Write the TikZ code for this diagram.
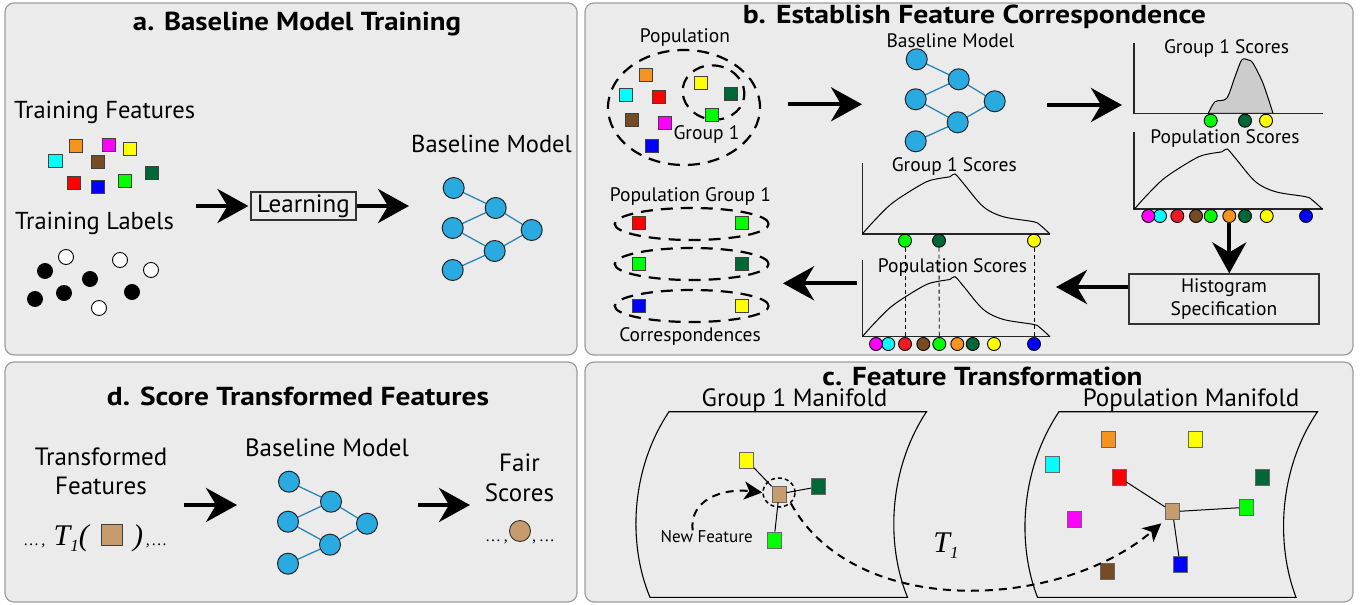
\documentclass[tikz,border=0pt]{standalone}
\usepackage{fontspec}
\usepackage{graphicx}
\setmainfont{PT Sans}
\newfontfamily\serifit{Liberation Serif}
\usetikzlibrary{arrows.meta,shapes.geometric,calc}
\newcommand{\fitw}[2]{\resizebox{#1}{\height}{#2}}
\definecolor{panelfill}{HTML}{EBEBEB}
\definecolor{panelline}{HTML}{9E9E9E}
\definecolor{cCyan}{HTML}{00FFFF}
\definecolor{cOrange}{HTML}{F7931E}
\definecolor{cMagenta}{HTML}{FF00FF}
\definecolor{cYellow}{HTML}{FFFF00}
\definecolor{cBrown}{HTML}{754C24}
\definecolor{cDkGreen}{HTML}{006837}
\definecolor{cRed}{HTML}{FF0000}
\definecolor{cRedDot}{HTML}{ED1C24}
\definecolor{cBlue}{HTML}{0000FF}
\definecolor{cGreen}{HTML}{00FF00}
\definecolor{cTan}{HTML}{C69C6D}
\definecolor{nnFill}{HTML}{29ABE2}
\definecolor{nnEdge}{HTML}{2E86B8}
\definecolor{histFill}{HTML}{CCCCCC}
\tikzset{
  panel/.style={draw=panelline, fill=panelfill, line width=1.2pt, rounded corners=9pt},
  ptitle/.style={font=\bfseries\fontsize{26}{28}\selectfont, inner sep=0pt},
  lblA/.style={font=\fontsize{24.5}{29.5}\selectfont, inner sep=0pt, align=center},
  lblC/.style={font=\fontsize{25}{29.5}\selectfont, inner sep=0pt, align=center},
  lblB/.style={font=\fontsize{19.5}{23}\selectfont, inner sep=0pt, align=center},
  lblS/.style={font=\fontsize{17}{19}\selectfont, inner sep=0pt},
  sq/.style={draw=black!75, line width=0.9pt, minimum size=13.5pt, inner sep=0pt},
  rsq/.style={draw=black!60, line width=0.9pt, minimum width=14pt, minimum height=16pt, inner sep=0pt},
  dot/.style={circle, draw=black, line width=0.9pt, minimum size=13pt, inner sep=0pt},
  lab/.style={circle, draw=black, line width=0.9pt, minimum size=15pt, inner sep=0pt},
  nn/.style={circle, draw=black!85, fill=nnFill, line width=1pt, minimum size=21pt, inner sep=0pt},
  nnline/.style={draw=nnEdge, line width=1.3pt},
  bigarrow/.style={line width=4pt, -{Stealth[length=31pt,width=34pt,inset=10pt]}},
  dashell/.style={ellipse, draw=black, line width=2.2pt, dash pattern=on 12pt off 8pt, inner sep=0pt},
  box/.style={draw=black!80, line width=1.2pt, inner sep=0pt},
  axis/.style={line width=1.2pt, draw=black!85},
  curve/.style={line width=1pt},
  guide/.style={line width=0.9pt, dash pattern=on 4pt off 3pt},
  dasharrow/.style={line width=2pt, dash pattern=on 8pt off 6pt, -{Stealth[length=18pt,width=18pt,inset=5pt]}},
  link/.style={line width=1pt},
  nnet/.pic={
    \draw[nnline] (0,0) -- (42,20) -- (-1,40) -- (41,63) -- (-1,82);
    \draw[nnline] (42,20) -- (78,42) -- (41,63);
    \node[nn] (-n1) at (0,0) {};
    \node[nn] (-n2) at (-1,40) {};
    \node[nn] (-n3) at (-1,82) {};
    \node[nn] (-h1) at (42,20) {};
    \node[nn] (-h2) at (41,63) {};
    \node[nn] (-o) at (78,42) {};
  },
  scorecurve/.pic={
    \draw[curve] plot[smooth, tension=0.55] coordinates {(0,0) (11,-12.3) (27.7,-29) (44.4,-40.7) (64.4,-52.3) (77.7,-55.7) (87.7,-57.3) (92.7,-60) (101,-50.7) (121,-27.3) (141,-17.3) (171,-12.3) (177.7,-9) (187.7,0)};
  },
}
\begin{document}
\begin{tikzpicture}[x=1pt,y=-1pt]
\useasboundingbox (0,0) rectangle (1361,605);
% panels
\draw[panel] (5,3) rectangle (577,355);
\draw[panel] (585,3) rectangle (1353,355);
\draw[panel] (5,362) rectangle (577,602);
\draw[panel] (585,362) rectangle (1353,602);

% ---------------- panel a
\node[ptitle] (ta) at (297,24) {\fitw{328pt}{a. Baseline Model Training}};
\node[lblA, anchor=west] (tf) at (14,112) {Training Features};
\node[lblA, anchor=west] (tl) at (15,223) {Training Labels};
\node[sq, fill=cCyan] (a-cy) at (55.6,160.7) {};
\node[sq, fill=cOrange] (a-or) at (76,146) {};
\node[sq, fill=cMagenta] (a-mg) at (109,145) {};
\node[sq, fill=cYellow] (a-ye) at (130,149) {};
\node[sq, fill=cBrown] (a-br) at (98,162) {};
\node[sq, fill=cDkGreen] (a-dg) at (152,173) {};
\node[sq, fill=cRed] (a-rd) at (74,183) {};
\node[sq, fill=cBlue] (a-bl) at (98,187) {};
\node[sq, fill=cGreen] (a-gr) at (125,181) {};
\node[lab, fill=white] (l1) at (66,257) {};
\node[lab, fill=black] (l2) at (45,271) {};
\node[lab, fill=white] (l3) at (120,260) {};
\node[lab, fill=white] (l4) at (151,270) {};
\node[lab, fill=black] (l5) at (90,279) {};
\node[lab, fill=black] (l6) at (35,299) {};
\node[lab, fill=black] (l7) at (64,293) {};
\node[lab, fill=black] (l8) at (132,292) {};
\node[lab, fill=white] (l9) at (99,308) {};
\node[box, minimum width=105pt, minimum height=28pt, font=\fontsize{25}{27}\selectfont] (learn) at (303.5,206) {Learning};
\coordinate (a1s) at (196,206);
\coordinate (a2e) at (409,206);
\draw[bigarrow, shorten >=2pt] (a1s) -- (learn.west);
\draw[bigarrow] (learn.east) -- (a2e);
\node[lblA] (bma) at (491.5,144) {Baseline Model};
\pic (nna) at (453.7,188) {nnet};

% ---------------- panel b
\node[ptitle] (tb) at (974.5,17) {\fitw{463pt}{b. Establish Feature Correspondence}};
\node[lblB] (popl) at (685,38) {Population};
\node[dashell, minimum width=152pt, minimum height=115pt] (popell) at (684,107.5) {};
\node[dashell, minimum width=62pt, minimum height=54pt, rotate=-10] (grpell) at (713.5,92.5) {};
\node[sq, minimum size=13pt, fill=cOrange] (b-or) at (646,75) {};
\node[sq, minimum size=13pt, fill=cCyan] (b-cy) at (625.7,94.7) {};
\node[sq, minimum size=13pt, fill=cRed] (b-rd) at (659,96.7) {};
\node[sq, minimum size=13pt, fill=cBrown] (b-br) at (632,120) {};
\node[sq, minimum size=13pt, fill=cMagenta] (b-mg) at (665,122.7) {};
\node[sq, minimum size=13pt, fill=cBlue] (b-bl) at (651.7,145.7) {};
\node[sq, minimum size=13pt, fill=cYellow] (b-ye) at (700.7,83.3) {};
\node[sq, minimum size=13pt, fill=cDkGreen] (b-dg) at (731,94) {};
\node[sq, minimum size=13pt, fill=cGreen] (b-gr) at (712.3,115) {};
\node[lblB] (g1l) at (706.5,135) {Group 1};
\coordinate (b1s) at (788,104.3);
\coordinate (b1e) at (862,104.3);
\draw[bigarrow] (b1s) -- (b1e);
\node[lblB] (bmb) at (950.5,40.7) {Baseline Model};
\pic (nnb) at (916.7,59.3) {nnet};
\coordinate (b2s) at (1047,105);
\coordinate (b2e) at (1122,105);
\draw[bigarrow] (b2s) -- (b2e);

% top-right chart: group 1 scores
\draw[axis] (1134,43.3) |- (1323,113.3);
\draw[curve, fill=histFill] plot[smooth, tension=0.5] coordinates {(1208.3,113.3) (1215,101.7) (1226.7,98.3) (1235,76.7) (1241.7,60) (1248.3,60) (1253,63.3) (1263,83.3) (1273,113.3)} -- cycle;
\draw[axis] (1134,113.3) -- (1323,113.3);
\node[lblB] (trg) at (1226.5,48.3) {Group 1 Scores};
\node[dot, fill=cGreen] (tg-gr) at (1210.7,120.7) {};
\node[dot, fill=cDkGreen] (tg-dg) at (1245,120.7) {};
\node[dot, fill=cYellow] (tg-ye) at (1266,120.7) {};
% top-right chart: population scores
\node[lblB] (trp) at (1225,138.3) {Population Scores};
\draw[axis] (1134,131.7) |- (1323,209);
\pic at (1134.5,209) {scorecurve};
\node[dot, fill=cCyan] (tp-cy) at (1160,216) {};
\node[dot, fill=cMagenta] (tp-mg) at (1148.3,216) {};
\node[dot, fill=cRedDot] (tp-rd) at (1177.3,216) {};
\node[dot, fill=cBrown] (tp-br) at (1196,216) {};
\node[dot, fill=cGreen] (tp-gr) at (1210.7,216) {};
\node[dot, fill=cOrange] (tp-or) at (1229.3,216) {};
\node[dot, fill=cDkGreen] (tp-dg) at (1245,216) {};
\node[dot, fill=cYellow] (tp-ye) at (1266.7,216) {};
\node[dot, fill=cBlue] (tp-bl) at (1306,216) {};
% histogram specification
\node[box, minimum width=190pt, minimum height=50pt, font=\fontsize{19.5}{23}\selectfont, align=center] (hist) at (1224,299) {Histogram\\Specification};
\draw[bigarrow] (tp-or.south) -- (tp-or.south |- hist.north);
\coordinate (b4e) at (1056,287);
\draw[bigarrow] (b4e -| hist.west) -- (b4e);

% middle chart: group 1 scores
\node[lblB] (mgl) at (954.3,166.7) {Group 1 Scores};
\draw[axis] (862.3,163.3) |- (1050,234);
\pic at (862.3,234) {scorecurve};
\node[dot, fill=cGreen] (mg-gr) at (905,240.7) {};
\node[dot, fill=cDkGreen] (mg-dg) at (939,240.7) {};
\node[dot, fill=cYellow] (mg-ye) at (1034,240.7) {};
% middle chart: population scores
\node[lblB] (mpl) at (952.5,267.3) {Population Scores};
\draw[axis] (862.3,260) |- (1050,336.7);
\pic at (862.3,336.7) {scorecurve};
\node[dot, fill=cCyan] (mp-cy) at (888.3,344) {};
\node[dot, fill=cMagenta] (mp-mg) at (876,344) {};
\node[dot, fill=cRedDot] (mp-rd) at (905,344) {};
\node[dot, fill=cBrown] (mp-br) at (923.3,344) {};
\node[dot, fill=cGreen] (mp-gr) at (939.3,344) {};
\node[dot, fill=cOrange] (mp-or) at (957.3,344) {};
\node[dot, fill=cDkGreen] (mp-dg) at (972.7,344) {};
\node[dot, fill=cYellow] (mp-ye) at (994,344) {};
\node[dot, fill=cBlue] (mp-bl) at (1034,344) {};
\draw[guide] (mg-gr.south) -- (mp-rd.north);
\draw[guide] (mg-dg.south) -- (mp-gr.north);
\draw[guide] (mg-ye.south) -- (mp-bl.north);
\coordinate (b5s) at (857,283.3);
\coordinate (b5e) at (783,283.3);
\draw[bigarrow] (b5s) -- (b5e);

% correspondences
\node[lblB] (pgl) at (690.5,196.7) {Population Group 1};
\node[dashell, minimum width=154pt, minimum height=32pt] (ce1) at (691.7,224) {};
\node[dashell, minimum width=154pt, minimum height=32pt] (ce2) at (691.7,264) {};
\node[dashell, minimum width=154pt, minimum height=32pt] (ce3) at (691.7,306) {};
\node[sq, minimum size=13pt, fill=cRed] (c1l) at (639,223.3) {};
\node[sq, minimum size=13pt, fill=cGreen] (c1r) at (742.3,223.3) {};
\node[sq, minimum size=13pt, fill=cGreen] (c2l) at (639,264.3) {};
\node[sq, minimum size=13pt, fill=cDkGreen] (c2r) at (742.3,264.3) {};
\node[sq, minimum size=13pt, fill=cBlue] (c3l) at (639,305.7) {};
\node[sq, minimum size=13pt, fill=cYellow] (c3r) at (742.3,305.7) {};
\node[lblB] (corl) at (690,336.7) {Correspondences};

% ---------------- panel d
\node[ptitle] (td) at (298,396.7) {\fitw{382pt}{d. Score Transformed Features}};
\node[lblC] (tfd) at (101,471.3) {Transformed\\Features};
\node[sq, minimum size=21pt, fill=cTan] (dsq) at (112,535) {};
\coordinate (dbase) at (112,545);
\node[anchor=base east, inner sep=0pt, font=\serifit\itshape\fontsize{30}{32}\selectfont] (dleft) at ([xshift=-12pt]dbase -| dsq.west) {{\fontsize{16}{18}\selectfont\ldots\,,}\;T\raisebox{-6pt}{\fontsize{17}{18}\selectfont 1}(};
\node[anchor=base west, inner sep=0pt, font=\serifit\itshape\fontsize{30}{32}\selectfont] (dright) at ([xshift=10pt]dbase -| dsq.east) {)\fontsize{16}{18}\selectfont\,,\,\ldots};
\coordinate (d1s) at (184,505);
\coordinate (d1e) at (237,505);
\draw[bigarrow] (d1s) -- (d1e);
\node[lblC] (bmd) at (327,447.3) {Baseline Model};
\pic (nnd) at (289,481.7) {nnet};
\coordinate (d2s) at (418,505);
\coordinate (d2e) at (470,505);
\draw[bigarrow] (d2s) -- (d2e);
\node[lblC] (fsl) at (519.5,478) {Fair\\Scores};
\node[circle, draw=black!80, line width=0.9pt, fill=cTan, minimum size=21pt, inner sep=0pt] (fdot) at (520,531) {};
\coordinate (fbase) at (520,541.7);
\node[anchor=base east, inner sep=0pt, font=\serifit\fontsize{16}{18}\selectfont] (fleft) at ([xshift=-1pt]fbase -| fdot.west) {\ldots\,,};
\node[anchor=base west, inner sep=0pt, font=\serifit\fontsize{16}{18}\selectfont] (fright) at ([xshift=1pt]fbase -| fdot.east) {,\,\ldots};

% ---------------- panel c
\node[ptitle] (tc) at (982.5,376.7) {\fitw{320pt}{c. Feature Transformation}};
\node[lblC] (g1m) at (794.5,400) {Group 1 Manifold};
\node[lblC] (pm) at (1191,400) {Population Manifold};
\draw[line width=1.1pt] (669,411.7) -- (926.5,411.7) .. controls (888,470) and (886,545) .. (907.5,597.3) -- (650,597.3) .. controls (628,545) and (630,470) .. (669,411.7) -- cycle;
\draw[line width=1.1pt] (1059,411.7) -- (1317.5,411.7) .. controls (1278,470) and (1276,545) .. (1296,597.3) -- (1037.5,597.3) .. controls (1017,545) and (1020,470) .. (1059,411.7) -- cycle;
% left manifold
\node[rsq, fill=cYellow] (lm-ye) at (746.5,460) {};
\node[rsq, fill=cTan] (lm-tan) at (779,494) {};
\node[rsq, fill=cDkGreen] (lm-dg) at (818.5,486.7) {};
\node[rsq, fill=cGreen] (lm-gr) at (774,540) {};
\draw[link] (lm-tan) -- (lm-ye);
\draw[link] (lm-tan) -- (lm-dg);
\draw[link] (lm-tan) -- (lm-gr);
\node[ellipse, draw=black, line width=1.5pt, dash pattern=on 4pt off 3pt, minimum width=32pt, minimum height=29pt, inner sep=0pt] (ring) at (779,492.5) {};
\node[lblS] (nf) at (706.7,536.7) {New Feature};
\draw[dasharrow] ([xshift=-14pt]nf.north) .. controls (689,500) and (722,488) .. (ring.west);
% right manifold
\node[rsq, fill=cOrange] (rm-or) at (1108.5,439) {};
\node[rsq, fill=cYellow] (rm-ye) at (1195,439) {};
\node[rsq, fill=cCyan] (rm-cy) at (1052,464) {};
\node[rsq, fill=cRed] (rm-rd) at (1119,477.3) {};
\node[rsq, fill=cDkGreen] (rm-dg) at (1262.5,477.3) {};
\node[rsq, fill=cTan] (rm-tan) at (1172.5,511.7) {};
\node[rsq, fill=cGreen] (rm-gr) at (1246.5,507.3) {};
\node[rsq, fill=cMagenta] (rm-mg) at (1074,519.3) {};
\node[rsq, fill=cBlue] (rm-bl) at (1180,564.3) {};
\node[rsq, fill=cBrown] (rm-br) at (1107.5,571.7) {};
\draw[link] (rm-tan) -- (rm-rd);
\draw[link] (rm-tan) -- (rm-gr);
\draw[link] (rm-tan) -- (rm-bl);
\draw[dasharrow, shorten >=5pt] (ring.south east) .. controls (855,620) and (1060,610) .. (rm-tan.south west);
\node[inner sep=0pt, font=\serifit\itshape\fontsize{30}{32}\selectfont] (t1) at (946,546) {T\raisebox{-6pt}{\fontsize{17}{18}\selectfont 1}};
\end{tikzpicture}
\end{document}
